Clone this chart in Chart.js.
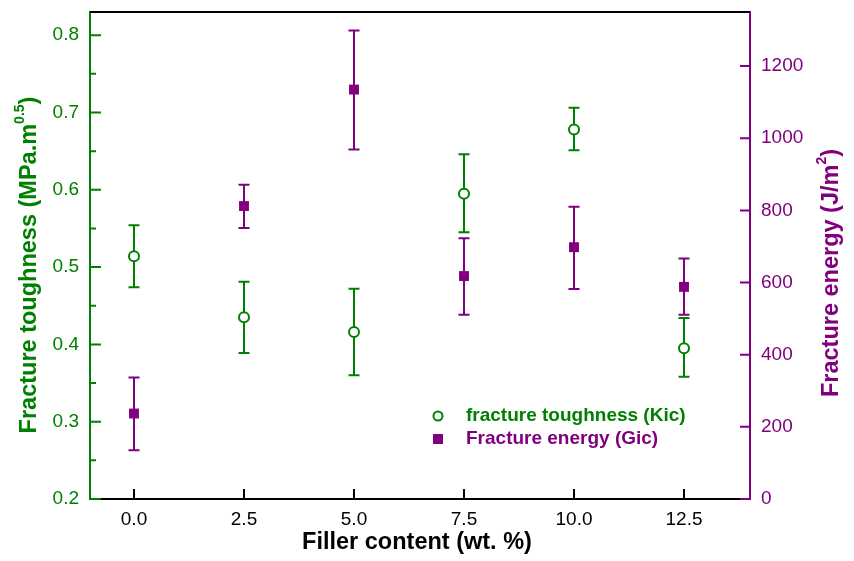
<!DOCTYPE html>
<html>
<head>
<meta charset="utf-8">
<title>Fracture toughness / energy vs filler content</title>
<script src="https://cdn.jsdelivr.net/npm/chart.js@4/dist/chart.umd.min.js"></script>
<style>
    html, body { margin: 0; padding: 0; background: #fff; }
    #wrap { width: 854px; height: 561px; }
</style>
</head>
<body>
<div id="wrap"><canvas id="chart" width="854" height="561"></canvas></div>
<script>
// --- data ---
const fillerContent = [0, 2.5, 5, 7.5, 10, 12.5];

// fracture toughness Kic (MPa.m^0.5)
const kicMean = [0.514, 0.435, 0.416, 0.595, 0.678, 0.395];
const kicLow  = [0.474, 0.389, 0.360, 0.545, 0.651, 0.358];
const kicHigh = [0.554, 0.481, 0.472, 0.646, 0.706, 0.434];

// fracture energy Gic (J/m^2)
const gicMean = [237, 812, 1135, 618, 698, 588];
const gicLow  = [135, 751, 969, 511, 582, 511];
const gicHigh = [337, 871, 1299, 723, 810, 667];

// tick labels
const xTicks = [0, 2.5, 5, 7.5, 10, 12.5];
const kicTicks = [0.2, 0.3, 0.4, 0.5, 0.6, 0.7, 0.8];
const kicMinorTicks = [0.25, 0.35, 0.45, 0.55, 0.65, 0.75];
const gicTicks = [0, 200, 400, 600, 800, 1000, 1200];

const GREEN = '#008000';
const PURPLE = '#800080';
const FONT = '"Liberation Sans", Arial, sans-serif';
const TICK_SIZE = 19;
const TITLE_SIZE = 23.5;

/**
 * error bars with caps, drawn under the markers
 */
function drawErrorBars(ctx, xScale, yScale, xs, lows, highs, color) {
    const cap = 5.5;
    ctx.save();
    ctx.strokeStyle = color;
    ctx.lineWidth = 2;
    xs.forEach((xv, i) => {
        const x = xScale.getPixelForValue(xv);
        const yl = yScale.getPixelForValue(lows[i]);
        const yh = yScale.getPixelForValue(highs[i]);
        ctx.beginPath();
        ctx.moveTo(x, yl); ctx.lineTo(x, yh);
        ctx.moveTo(x - cap, yl); ctx.lineTo(x + cap, yl);
        ctx.moveTo(x - cap, yh); ctx.lineTo(x + cap, yh);
        ctx.stroke();
    });
    ctx.restore();
}

const errorBarPlugin = {
    id: 'errorBars',
    beforeDatasetsDraw(chart) {
        const { ctx, scales } = chart;
        drawErrorBars(ctx, scales.x, scales.yK, fillerContent, kicLow, kicHigh, GREEN);
        drawErrorBars(ctx, scales.x, scales.yG, fillerContent, gicLow, gicHigh, PURPLE);
    }
};

/**
 * inward tick marks + top frame line
 */
const frameTicksPlugin = {
    id: 'frameTicks',
    afterDraw(chart) {
        const { ctx, chartArea: a, scales } = chart;
        ctx.save();
        ctx.lineWidth = 2;

        // top frame
        ctx.strokeStyle = '#000';
        ctx.beginPath();
        ctx.moveTo(a.left, a.top); ctx.lineTo(a.right, a.top);
        ctx.stroke();

        // bottom ticks
        ctx.beginPath();
        xTicks.forEach(v => {
            const x = scales.x.getPixelForValue(v);
            ctx.moveTo(x, a.bottom); ctx.lineTo(x, a.bottom - 10);
        });
        ctx.stroke();

        // left ticks (major + minor)
        ctx.strokeStyle = GREEN;
        ctx.beginPath();
        kicTicks.forEach(v => {
            const y = scales.yK.getPixelForValue(v);
            ctx.moveTo(a.left, y); ctx.lineTo(a.left + 11, y);
        });
        kicMinorTicks.forEach(v => {
            const y = scales.yK.getPixelForValue(v);
            ctx.moveTo(a.left, y); ctx.lineTo(a.left + 6, y);
        });
        ctx.stroke();

        // right ticks
        ctx.strokeStyle = PURPLE;
        ctx.beginPath();
        gicTicks.forEach(v => {
            const y = scales.yG.getPixelForValue(v);
            ctx.moveTo(a.right, y); ctx.lineTo(a.right - 10, y);
        });
        ctx.stroke();
        ctx.restore();
    }
};

/**
 * draws text made of parts, some of them superscript (baseline at y=0)
 */
function drawRichText(ctx, parts, size, color) {
    const big = `bold ${size}px ${FONT}`;
    const small = `bold ${Math.round(size * 0.6)}px ${FONT}`;
    let w = 0;
    parts.forEach(p => {
        ctx.font = p.sup ? small : big;
        p.w = ctx.measureText(p.t).width;
        w += p.w;
    });
    let x = -w / 2;
    ctx.fillStyle = color;
    ctx.textBaseline = 'alphabetic';
    ctx.textAlign = 'left';
    parts.forEach(p => {
        ctx.font = p.sup ? small : big;
        ctx.fillText(p.t, x, p.sup ? -size * 0.5 : 0);
        x += p.w;
    });
}

const titlesPlugin = {
    id: 'axisTitles',
    afterDraw(chart) {
        const { ctx, chartArea: a } = chart;

        ctx.save();
        ctx.translate((a.left + a.right) / 2 - 3, 549);
        drawRichText(ctx, [{ t: 'Filler content (wt. %)' }], TITLE_SIZE, '#000');
        ctx.restore();

        ctx.save();
        ctx.translate(36, 265);
        ctx.rotate(-Math.PI / 2);
        drawRichText(ctx, [{ t: 'Fracture toughness (MPa.m' }, { t: '0.5', sup: true }, { t: ')' }], TITLE_SIZE, GREEN);
        ctx.restore();

        ctx.save();
        ctx.translate(838, 273);
        ctx.rotate(-Math.PI / 2);
        drawRichText(ctx, [{ t: 'Fracture energy (J/m' }, { t: '2', sup: true }, { t: ')' }], TITLE_SIZE, PURPLE);
        ctx.restore();
    }
};

/**
 * legend inside the plot area
 */
const legendPlugin = {
    id: 'innerLegend',
    afterDraw(chart) {
        const { ctx } = chart;
        const ds = chart.data.datasets;
        ctx.save();
        ctx.font = `bold ${TICK_SIZE}px ${FONT}`;
        ctx.textBaseline = 'middle';
        ctx.textAlign = 'left';

        // circle
        ctx.strokeStyle = GREEN;
        ctx.fillStyle = '#fff';
        ctx.lineWidth = 2;
        ctx.beginPath();
        ctx.arc(438, 416, 4.5, 0, Math.PI * 2);
        ctx.fill();
        ctx.stroke();
        ctx.fillStyle = GREEN;
        ctx.fillText(ds[0].label, 466, 416);

        // square
        ctx.fillStyle = PURPLE;
        ctx.fillRect(433, 434, 10, 10);
        ctx.fillText(ds[1].label, 466, 439);
        ctx.restore();
    }
};

// drop the automatic label padding so the plot area is fixed
function noPad(s) {
    s.paddingTop = 0; s.paddingBottom = 0;
    s.paddingLeft = 0; s.paddingRight = 0;
}

const ctx = document.getElementById('chart').getContext('2d');

new Chart(ctx, {
    type: 'scatter',
    data: {
        datasets: [
            {
                label: 'fracture toughness (Kic)',
                data: fillerContent.map((x, i) => ({ x, y: kicMean[i] })),
                yAxisID: 'yK',
                pointStyle: 'circle',
                pointRadius: 5,
                pointBorderWidth: 2,
                borderColor: GREEN,
                backgroundColor: '#fff'
            },
            {
                label: 'Fracture energy (Gic)',
                data: fillerContent.map((x, i) => ({ x, y: gicMean[i] })),
                yAxisID: 'yG',
                pointStyle: 'rect',
                pointRadius: 7,
                pointBorderWidth: 0,
                borderColor: PURPLE,
                backgroundColor: PURPLE
            }
        ]
    },
    options: {
        responsive: false,
        animation: false,
        layout: { padding: { top: 12, left: 0, right: 0, bottom: 0 } },
        plugins: {
            legend: { display: false },
            tooltip: { enabled: false }
        },
        scales: {
            x: {
                type: 'linear',
                position: 'bottom',
                min: -1,
                max: 14,
                afterFit(s) { s.height = 62; noPad(s); },
                afterBuildTicks(s) { s.ticks = xTicks.map(v => ({ value: v })); },
                grid: { display: false, drawTicks: false },
                border: { color: '#000', width: 2 },
                ticks: {
                    color: '#000',
                    padding: 9,
                    font: { family: FONT, size: TICK_SIZE },
                    callback: v => v.toFixed(1)
                }
            },
            yK: {
                type: 'linear',
                position: 'left',
                min: 0.2,
                max: 0.83,
                afterFit(s) { s.width = 90; noPad(s); },
                afterBuildTicks(s) { s.ticks = kicTicks.map(v => ({ value: v })); },
                grid: { display: false, drawTicks: false },
                border: { color: GREEN, width: 2 },
                ticks: {
                    color: GREEN,
                    padding: 11,
                    font: { family: FONT, size: TICK_SIZE },
                    callback: v => v.toFixed(1)
                }
            },
            yG: {
                type: 'linear',
                position: 'right',
                min: 0,
                max: 1350,
                afterFit(s) { s.width = 104; noPad(s); },
                afterBuildTicks(s) { s.ticks = gicTicks.map(v => ({ value: v })); },
                grid: { display: false, drawTicks: false },
                border: { color: PURPLE, width: 2 },
                ticks: {
                    color: PURPLE,
                    padding: 11,
                    font: { family: FONT, size: TICK_SIZE },
                    callback: v => String(v)
                }
            }
        }
    },
    plugins: [errorBarPlugin, frameTicksPlugin, titlesPlugin, legendPlugin]
});
</script>
</body>
</html>
